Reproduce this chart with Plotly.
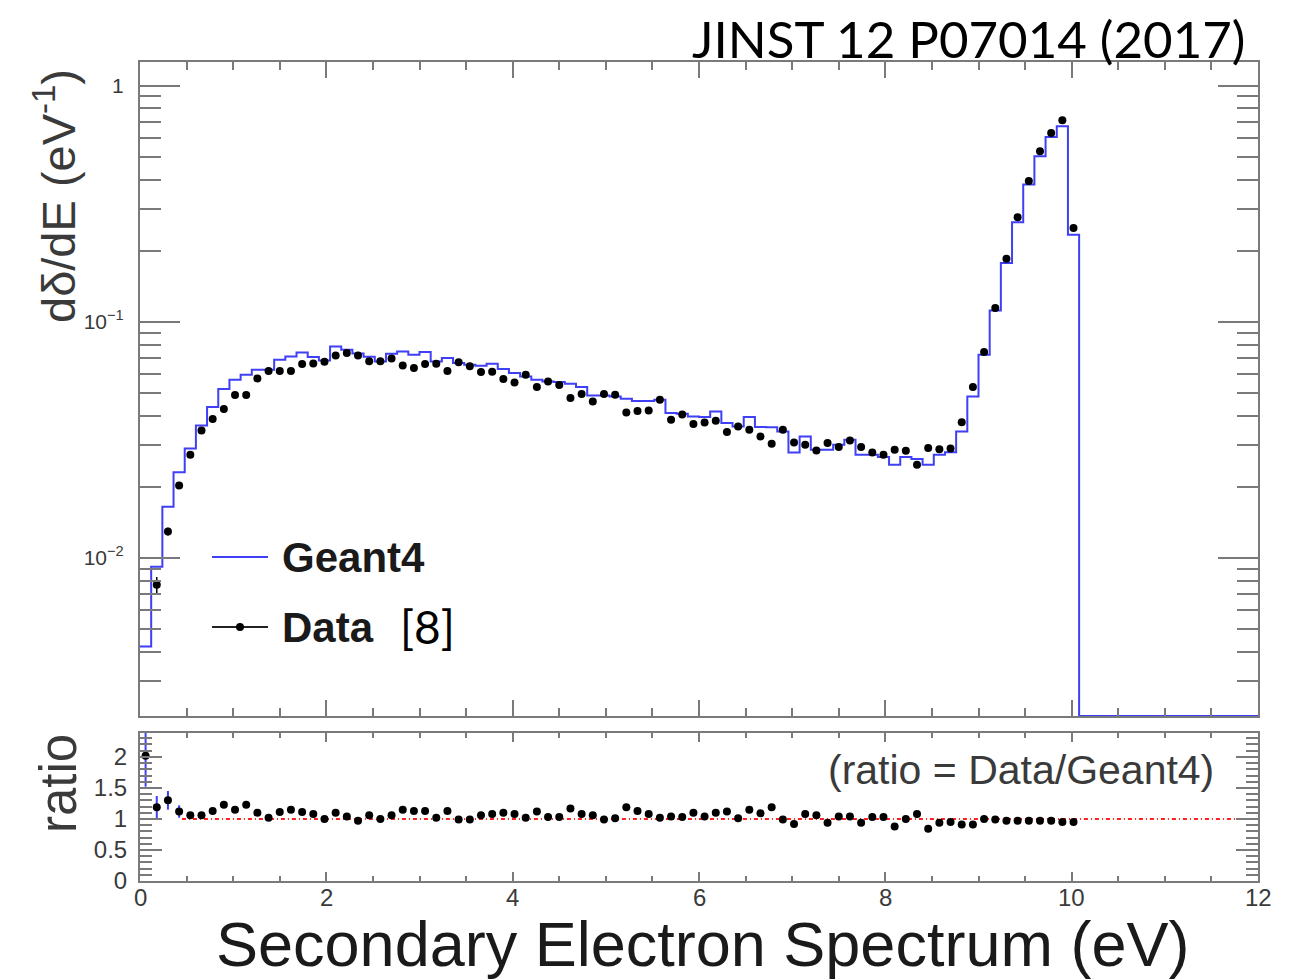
import numpy as np
import plotly.graph_objects as go

# ---------------------------------------------------------------- data
BIN_W = 0.12          # eV per bin
N_BINS = 100          # histogram covers 0 - 12 eV

# Geant4 simulated spectrum dδ/dE (eV^-1), first 84 bins (0 - 10.08 eV)
geant4 = [
    0.00421, 0.00916, 0.01644, 0.02301, 0.02904, 0.03637, 0.04354, 0.05188,
    0.05679, 0.05960, 0.06259, 0.06259, 0.06902, 0.07130, 0.07413, 0.07087,
    0.06855, 0.07855, 0.07607, 0.07339, 0.07112, 0.06790, 0.07311, 0.07480,
    0.07245, 0.07445, 0.06790, 0.07020, 0.06684, 0.06577, 0.06510, 0.06640,
    0.06303, 0.06067, 0.05866, 0.05679, 0.05584, 0.05551, 0.05458, 0.05286,
    0.04872, 0.04872, 0.04822, 0.04716, 0.04614, 0.04614, 0.04669, 0.04102,
    0.04074, 0.03970, 0.03945, 0.04168, 0.03723, 0.03600, 0.03945, 0.03578,
    0.03570, 0.03428, 0.02793, 0.03266, 0.02870, 0.02870, 0.03013, 0.03163,
    0.02731, 0.02731, 0.02671, 0.02478, 0.02671, 0.02620, 0.02478, 0.02731,
    0.02800, 0.03428, 0.04822, 0.07245, 0.1116, 0.1774, 0.2635, 0.3808,
    0.5017, 0.6063, 0.6723, 0.2338,
]
# remaining bins up to 12 eV are empty
geant4 = geant4 + [0.0] * (N_BINS - len(geant4))

# measured spectrum (Data [8]) at the bin centres, 0 - 10.08 eV
data = [
    0.00200, 0.00769, 0.01292, 0.02023, 0.02731, 0.03461, 0.03873, 0.04266,
    0.04889, 0.04889, 0.05750, 0.06180, 0.06180, 0.06180, 0.06616, 0.06654,
    0.06772, 0.07198, 0.07364, 0.07198, 0.06808, 0.06808, 0.06989, 0.06531,
    0.06367, 0.06616, 0.06640, 0.06180, 0.06732, 0.06478, 0.06119, 0.06138,
    0.05719, 0.05531, 0.05960, 0.05286, 0.05584, 0.05391, 0.04750, 0.04941,
    0.04596, 0.04941, 0.04905, 0.04128, 0.04184, 0.04210, 0.04669, 0.03843,
    0.04047, 0.03684, 0.03743, 0.03808, 0.03410, 0.03600, 0.03486, 0.03266,
    0.03041, 0.03486, 0.03081, 0.03013, 0.02849, 0.03061, 0.02944, 0.03141,
    0.02944, 0.02793, 0.02731, 0.02870, 0.02840, 0.02478, 0.02917, 0.02884,
    0.02902, 0.03753, 0.05286, 0.07445, 0.1143, 0.1849, 0.2767, 0.3946,
    0.5270, 0.6301, 0.7129, 0.2495,
]
data_err = [0.0, 0.00060, 0.00050, 0.00050, 0.00040] + [0.0] * (len(data) - 5)

# ratio panel values
ratio = [
    2.02, 1.19, 1.30, 1.12, 1.06, 1.06, 1.13, 1.23, 1.15, 1.23, 1.10, 1.02,
    1.11, 1.15, 1.11, 1.08, 1.00, 1.10, 1.04, 0.97, 1.06, 1.00, 1.06, 1.15,
    1.13, 1.13, 1.02, 1.13, 0.99, 0.99, 1.06, 1.08, 1.10, 1.08, 1.02, 1.12,
    1.03, 1.03, 1.17, 1.08, 1.06, 0.99, 1.01, 1.19, 1.13, 1.08, 1.02, 1.04,
    1.03, 1.10, 1.04, 1.10, 1.12, 1.01, 1.15, 1.09, 1.19, 0.99, 0.92, 1.08,
    1.06, 0.94, 1.04, 1.04, 0.94, 1.03, 1.03, 0.88, 1.00, 1.08, 0.84, 0.94,
    0.95, 0.91, 0.91, 1.00, 0.99, 0.97, 0.97, 0.97, 0.97, 0.97, 0.95, 0.95,
]
ratio_err = [0.50, 0.18, 0.15, 0.10] + [0.04] * (len(ratio) - 4)

x_major = [0, 2, 4, 6, 8, 10, 12]
y_decades = [0.01, 0.1, 1]
y_decade_text = ["10<sup>−2</sup>", "10<sup>−1</sup>", "1"]
ratio_ticks = [0, 0.5, 1, 1.5, 2]
ratio_tick_text = ["0", "0.5", "1", "1.5", "2"]

# ---------------------------------------------------------------- geometry
W, H = 1291, 980
PLOT_L, PLOT_R, PLOT_T, PLOT_B = 140, 1258, 62, 881
TOP_BOTTOM_PX, RATIO_TOP_PX = 716, 733
X_LABEL_PX = 897
Y_LOG_RANGE = [-2.67, 0.10]
Y_MIN = 10 ** Y_LOG_RANGE[0]
RATIO_RANGE = [0, 2.385]
UNITY_START = 0.45

frame_col = "#7a7a7a"
tick_col = "#7a7a7a"
label_col = "#3a3a3a"
g4_col = "#3f3ff5"
SANS = "Liberation Sans, Arial, sans-serif"


def px(xp):
    return (xp - PLOT_L) / (PLOT_R - PLOT_L)


def py(yp):
    return (PLOT_B - yp) / (PLOT_B - PLOT_T)


edges = np.round(np.arange(N_BINS + 1) * BIN_W, 4)
centres_data = (edges[:len(data)] + edges[1:len(data) + 1]) / 2
centres_ratio = (edges[:len(ratio)] + edges[1:len(ratio) + 1]) / 2

# empty bins sit on the lower frame of the log panel
g4_draw = np.maximum(np.array(geant4), Y_MIN)
step_x = list(edges)
step_y = list(g4_draw) + [g4_draw[-1]]

fig = go.Figure()

fig.add_trace(go.Scatter(
    x=step_x, y=step_y, mode="lines", line=dict(color=g4_col, width=2, shape="hv"),
    xaxis="x", yaxis="y", showlegend=False, hoverinfo="skip",
))
fig.add_trace(go.Scatter(
    x=centres_data, y=data, mode="markers",
    marker=dict(color="black", size=8),
    error_y=dict(type="data", array=data_err, color="black", thickness=1.5, width=0),
    xaxis="x", yaxis="y", showlegend=False,
))

# ratio panel
fig.add_trace(go.Scatter(
    x=[UNITY_START, 12], y=[1, 1], mode="lines",
    line=dict(color="#ff2020", width=2, dash="4px,3px,1px,3px"),
    xaxis="x2", yaxis="y2", showlegend=False, hoverinfo="skip",
))
fig.add_trace(go.Scatter(
    x=centres_ratio, y=ratio, mode="markers",
    marker=dict(color="black", size=8),
    error_y=dict(type="data", array=ratio_err, color=g4_col, thickness=2, width=0),
    xaxis="x2", yaxis="y2", showlegend=False,
))

top_dom = [py(TOP_BOTTOM_PX), 1]
bot_dom = [0, py(RATIO_TOP_PX)]

minor_log = [m * d for d in [0.001, 0.01, 0.1] for m in range(2, 10)]

axis_common = dict(showline=True, linecolor=frame_col, linewidth=2, mirror="ticks",
                   ticks="inside", tickcolor=tick_col, tickwidth=1.5,
                   showgrid=False, zeroline=False)

fig.update_layout(
    width=W, height=H,
    margin=dict(l=PLOT_L, r=W - PLOT_R, t=PLOT_T, b=H - PLOT_B),
    paper_bgcolor="white", plot_bgcolor="white",
    xaxis=dict(domain=[0, 1], anchor="y", range=[0, 12], tickvals=x_major,
               showticklabels=False, ticklen=16,
               minor=dict(dtick=0.5, tick0=0, ticklen=8, tickcolor=tick_col,
                          ticks="inside", tickwidth=1.5, showgrid=False),
               **axis_common),
    yaxis=dict(domain=top_dom, anchor="x", type="log", range=Y_LOG_RANGE,
               tickmode="array", tickvals=y_decades, ticktext=y_decade_text,
               ticklen=40, ticklabelstandoff=10,
               tickfont=dict(family=SANS, size=21, color=label_col),
               minor=dict(tickmode="array", tickvals=minor_log, ticklen=21,
                          tickcolor=tick_col, ticks="inside", tickwidth=1.5,
                          showgrid=False),
               **axis_common),
    xaxis2=dict(domain=[0, 1], anchor="y2", range=[0, 12], tickvals=x_major,
                showticklabels=False, ticklen=9,
                minor=dict(dtick=0.5, tick0=0, ticklen=5, tickcolor=tick_col,
                           ticks="inside", tickwidth=1.5, showgrid=False),
                **axis_common),
    yaxis2=dict(domain=bot_dom, anchor="x2", range=RATIO_RANGE,
                tickmode="array", tickvals=ratio_ticks, ticktext=ratio_tick_text,
                ticklen=22, ticklabelstandoff=6,
                tickfont=dict(family=SANS, size=24, color=label_col),
                minor=dict(dtick=0.1, tick0=0, ticklen=12, tickcolor=tick_col,
                           ticks="inside", tickwidth=1.5, showgrid=False),
                **axis_common),
)

ann = []
# energy tick labels, placed on the shared energy axis just under the frame
for v in x_major:
    ann.append(dict(text=str(v), x=v, xref="x2", y=py(X_LABEL_PX), yref="paper",
                    showarrow=False, xanchor="center", yanchor="middle",
                    font=dict(family=SANS, size=24, color=label_col)))
# axis titles
ann.append(dict(text="dδ/dE (eV<sup>-1</sup>)", x=px(55), y=py(196), xref="paper", yref="paper",
                textangle=-90, showarrow=False, xanchor="center", yanchor="middle",
                font=dict(family=SANS, size=47, color=label_col)))
ann.append(dict(text="ratio", x=px(58), y=py(784), xref="paper", yref="paper",
                textangle=-90, showarrow=False, xanchor="center", yanchor="middle",
                font=dict(family=SANS, size=51, color=label_col)))
ann.append(dict(text="Secondary Electron Spectrum (eV)", x=px(1191), y=py(944),
                xref="paper", yref="paper", showarrow=False, xanchor="right", yanchor="middle",
                font=dict(family=SANS, size=63, color="#1a1a1a")))
# publication tag
ann.append(dict(text="JINST 12 P07014 (2017)", x=px(1247), y=py(38), xref="paper", yref="paper",
                showarrow=False, xanchor="right", yanchor="middle",
                font=dict(family="Lato, sans-serif", size=51, color="black")))
# ratio definition
ann.append(dict(text="(ratio = Data/Geant4)", x=px(1216), y=py(770), xref="paper", yref="paper",
                showarrow=False, xanchor="right", yanchor="middle",
                font=dict(family=SANS, size=41, color=label_col)))
# legend entries
ann.append(dict(text="<b>Geant4</b>", x=px(280), y=py(557), xref="paper", yref="paper",
                showarrow=False, xanchor="left", yanchor="middle",
                font=dict(family=SANS, size=42, color="#1a1a1a")))
ann.append(dict(text="<b>Data</b>", x=px(280), y=py(627), xref="paper", yref="paper",
                showarrow=False, xanchor="left", yanchor="middle",
                font=dict(family=SANS, size=42, color="#1a1a1a")))
ann.append(dict(text="[8]", x=px(398), y=py(626), xref="paper", yref="paper",
                showarrow=False, xanchor="left", yanchor="middle",
                font=dict(family="Lato, sans-serif", size=46, color="black")))
fig.update_layout(annotations=ann)

shapes = [
    dict(type="line", xref="paper", yref="paper", x0=px(212), x1=px(268), y0=py(557), y1=py(557),
         line=dict(color=g4_col, width=2)),
    dict(type="line", xref="paper", yref="paper", x0=px(212), x1=px(268), y0=py(627), y1=py(627),
         line=dict(color="#222222", width=2)),
    dict(type="circle", xref="paper", yref="paper", x0=px(236), x1=px(244), y0=py(623), y1=py(631),
         fillcolor="black", line=dict(color="black", width=0)),
]
fig.update_layout(shapes=shapes)

fig.write_html("out.html")
